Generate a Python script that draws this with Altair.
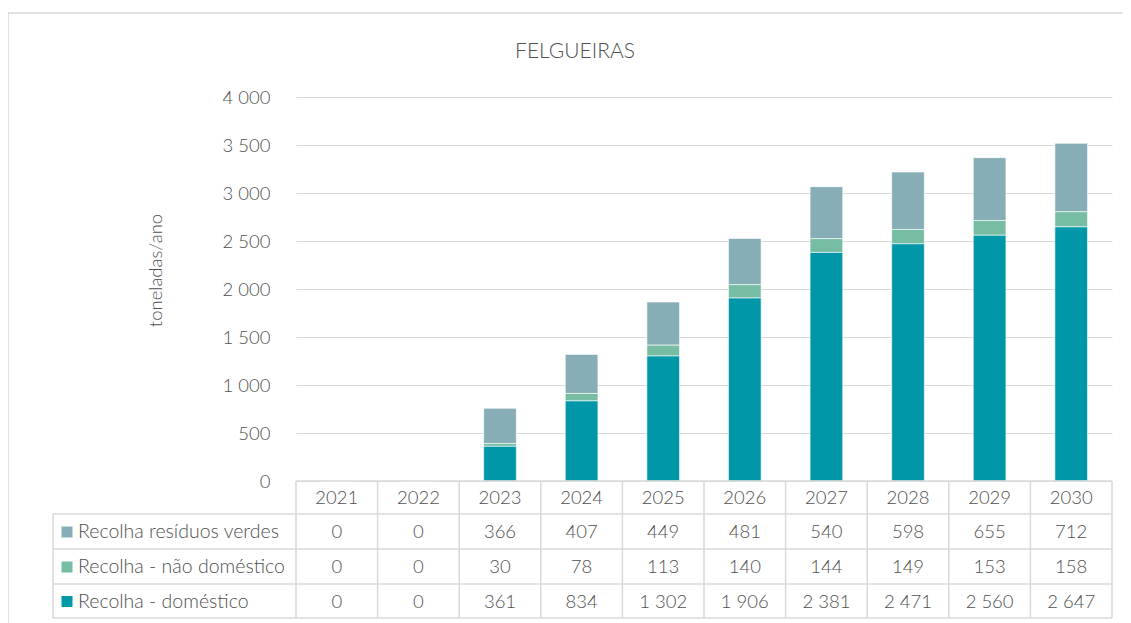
import altair as alt
import pandas as pd

# ---- data ----
years = [2021, 2022, 2023, 2024, 2025, 2026, 2027, 2028, 2029, 2030]
verdes = [0, 0, 366, 407, 449, 481, 540, 598, 655, 712]
nao_domestico = [0, 0, 30, 78, 113, 140, 144, 149, 153, 158]
domestico = [0, 0, 361, 834, 1302, 1906, 2381, 2471, 2560, 2647]
series_names = ["Recolha resíduos verdes", "Recolha - não doméstico", "Recolha - doméstico"]
series_colors = ["#87ADB6", "#77BDA3", "#0098A9"]
y_ticks = [0, 500, 1000, 1500, 2000, 2500, 3000, 3500, 4000]
chart_title = "FELGUEIRAS"
y_title = "toneladas/ano"

FONT = "Lato"
FW = 300
FS = 18.5
FS_LEG = 19.5
TXT = "#505050"
GRID = "#D9D9D9"

series_values = [verdes, nao_domestico, domestico]
stack_order = [2, 1, 0]  # domestico at bottom
rows = []
for s_idx, (name, vals) in enumerate(zip(series_names, series_values)):
    for yr, v in zip(years, vals):
        rows.append({"year": str(yr), "series": name, "value": v,
                     "order": stack_order[s_idx], "row": s_idx})
df = pd.DataFrame(rows)
one = pd.DataFrame({"k": [0]})

W, H = 816, 384
STEP = W / len(years)
row_lines = [417, 452, 487, 521]
header_center = 401
row_centers = [435, 470, 504.5]

color = alt.Color("series:N", scale=alt.Scale(domain=series_names, range=series_colors), legend=None)
xenc = alt.X("year:O", scale=alt.Scale(paddingInner=0.6, paddingOuter=0.3), axis=None)

bars = alt.Chart(df).mark_bar(stroke="white", strokeWidth=0.6).encode(
    x=xenc,
    y=alt.Y("value:Q", stack="zero",
            scale=alt.Scale(domain=[0, 4000], nice=False),
            axis=alt.Axis(values=y_ticks, grid=True, gridColor=GRID, gridWidth=1,
                          domain=False, ticks=False, labelPadding=26,
                          labelFont=FONT, labelFontSize=FS, labelFontWeight=FW, labelColor=TXT,
                          labelExpr="replace(format(datum.value, ','), ',', ' ')",
                          title=y_title, titleFont=FONT, titleFontSize=FS,
                          titleFontWeight=FW, titleColor=TXT,
                          titleAngle=-90, titleX=-140.5, titleY=173,
                          titleAlign="center", titleBaseline="middle")),
    color=color,
    order=alt.Order("order:Q"),
)

title_mark = alt.Chart(one).mark_text(
    font=FONT, fontSize=21, fontWeight=FW, color=TXT, baseline="alphabetic", align="center"
).encode(x=alt.value(279), y=alt.value(-39), text=alt.value(chart_title))

header = alt.Chart(df).transform_filter("datum.row == 0").mark_text(
    font=FONT, fontSize=FS, fontWeight=FW, color=TXT, baseline="middle"
).encode(x=xenc, y=alt.value(header_center), text="year:N")

value_layers = []
legend_layers = []
for r in range(3):
    sub = alt.Chart(df).transform_filter(f"datum.row == {r}")
    value_layers.append(
        sub.transform_calculate(lbl="replace(format(datum.value, ','), ',', ' ')")
        .mark_text(font=FONT, fontSize=FS, fontWeight=FW, color=TXT, baseline="middle")
        .encode(x=xenc, y=alt.value(row_centers[r]), text="lbl:N")
    )
    legend_layers.append(
        sub.transform_filter("datum.year == '2021'")
        .mark_square(size=121, opacity=1)
        .encode(x=alt.value(-229), y=alt.value(row_centers[r]), color=color)
    )
    legend_layers.append(
        sub.transform_filter("datum.year == '2021'")
        .mark_text(font=FONT, fontSize=FS_LEG, fontWeight=FW, color=TXT, baseline="middle", align="left")
        .encode(x=alt.value(-218), y=alt.value(row_centers[r]), text="series:N")
    )

vlines = alt.Chart(df).transform_filter("datum.row == 0").mark_rule(
    color=GRID, strokeWidth=1.5, xOffset=-STEP / 2
).encode(x=xenc, y=alt.value(384), y2=alt.value(row_lines[-1]))
vline_last = alt.Chart(df).transform_filter("datum.row == 0 && datum.year == '2030'").mark_rule(
    color=GRID, strokeWidth=1.5, xOffset=STEP / 2
).encode(x=xenc, y=alt.value(384), y2=alt.value(row_lines[-1]))
vline_left = alt.Chart(one).mark_rule(color=GRID, strokeWidth=1.5).encode(
    x=alt.value(-243), y=alt.value(row_lines[0]), y2=alt.value(row_lines[-1]))

hlines = [alt.Chart(one).mark_rule(color=GRID, strokeWidth=1.5).encode(
    x=alt.value(0), x2=alt.value(W), y=alt.value(384))]
for yy in row_lines:
    hlines.append(alt.Chart(one).mark_rule(color=GRID, strokeWidth=1.5).encode(
        x=alt.value(-243), x2=alt.value(W), y=alt.value(yy)))

frame = [
    alt.Chart(one).mark_rule(color=GRID, strokeWidth=1.5).encode(
        x=alt.value(-288), y=alt.value(-84), y2=alt.value(540)),
    alt.Chart(one).mark_rule(color=GRID, strokeWidth=1.5).encode(
        x=alt.value(-288), x2=alt.value(840), y=alt.value(-84)),
]

chart = alt.layer(
    *frame, bars, title_mark, *hlines, vlines, vline_last, vline_left,
    header, *value_layers, *legend_layers
).properties(
    width=W, height=H,
    background="white",
    autosize=alt.AutoSizeParams(type="none"),
    padding={"left": 288, "top": 89, "right": 11, "bottom": 142},
).configure_view(stroke=None, strokeWidth=0)

chart.save("out.html", embed_options={"renderer": "svg", "actions": False})
